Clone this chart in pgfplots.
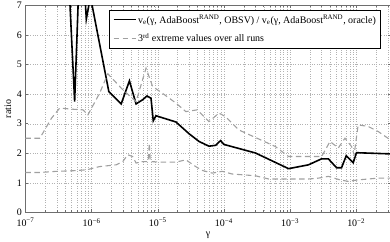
\documentclass[border=0pt]{standalone}
\usepackage{fontspec}
\setmainfont{Liberation Serif}
\usepackage{pgfplots}
\pgfplotsset{compat=1.18}
\definecolor{dgray}{RGB}{160,160,160}
\definecolor{axgray}{RGB}{110,110,110}
\begin{document}
\fontsize{10}{12}\selectfont
\begin{tikzpicture}
\begin{axis}[
  scale only axis, width=365.5bp, height=207.2bp,
  xmode=log, xmin=1e-7, xmax=0.033, ymin=0, ymax=7,
  xtick={1e-7,1e-6,1e-5,1e-4,1e-3,1e-2},
  xticklabels={10\textsuperscript{−7},10\textsuperscript{−6},10\textsuperscript{−5},10\textsuperscript{−4},10\textsuperscript{−3},10\textsuperscript{−2}},
  minor xtick={2e-7,3e-7,4e-7,5e-7,6e-7,7e-7,8e-7,9e-7,
               2e-6,3e-6,4e-6,5e-6,6e-6,7e-6,8e-6,9e-6,
               2e-5,3e-5,4e-5,5e-5,6e-5,7e-5,8e-5,9e-5,
               2e-4,3e-4,4e-4,5e-4,6e-4,7e-4,8e-4,9e-4,
               2e-3,3e-3,4e-3,5e-3,6e-3,7e-3,8e-3,9e-3,
               2e-2,3e-2},
  ytick={0,1,2,3,4,5,6,7}, yticklabels={0,1,2,3,4,5,6,7},
  xmajorgrids, xminorgrids, ymajorgrids,
  major grid style={dotted, gray!60, line width=0.4pt},
  minor grid style={dotted, gray!60, line width=0.4pt},
  tick align=inside, major tick length=3bp, minor tick length=2bp,
  tick style={axgray, line width=0.5pt},
  axis line style={axgray, line width=0.9pt},
  xlabel={γ}, ylabel={ratio},
  xlabel style={yshift=2bp},
  ylabel style={yshift=-1bp},
  every tick label/.append style={font=\fontsize{10}{12}\selectfont},
  xticklabel style={yshift=-2.5bp},
  legend cell align=left,
  legend style={at={(0.973,0.978)}, anchor=north east, draw=black, line width=0.6pt,
    font=\fontsize{10}{12}\selectfont, inner xsep=3.5pt, inner ysep=2.5pt, row sep=5pt,
    nodes={inner xsep=1pt}},
  legend image code/.code={\draw[#1] (0cm,0cm) -- (0.8cm,0cm);},
]
\addplot[black, line width=1.6pt] coordinates {
(1e-7,12) (4.6e-7,7.5) (5.54e-7,3.75) (6.6e-7,8.5) (7.6e-7,8) (8.32e-7,6.54) (9.6e-7,7.3)
(1.82e-6,4.09) (2.80e-6,3.67) (3.73e-6,4.45) (4.70e-6,3.67) (5.90e-6,3.81) (6.88e-6,3.94)
(7.91e-6,3.86) (8.55e-6,3.10) (9.39e-6,3.27) (1.88e-5,3.06) (2.98e-5,2.66) (4.21e-5,2.40)
(5.95e-5,2.24) (7.5e-5,2.27) (8.91e-5,2.43) (1.0e-4,2.30) (3.0e-4,2.01) (9.5e-4,1.48)
(1.9e-3,1.61) (2.98e-3,1.81) (3.8e-3,1.81) (5.06e-3,1.51) (6.0e-3,1.51) (7.08e-3,1.92)
(9.0e-3,1.68) (1.01e-2,2.02) (3.3e-2,1.98)
};
\addlegendentry{v\textsubscript{e}(γ, AdaBoost\textsuperscript{RAND}, OBSV) / v\textsubscript{e}(γ, AdaBoost\textsuperscript{RAND}, oracle)}
\addplot[dgray, line width=1.1pt, dash pattern=on 5.5pt off 3.5pt] coordinates {
(1e-7,2.51) (1.65e-7,2.51) (2.48e-7,3.19) (3.30e-7,3.53) (5.24e-7,3.49) (7.40e-7,3.47)
(8.79e-7,3.30) (1.32e-6,4.03) (1.76e-6,4.69) (2.96e-6,4.15) (4.7e-6,3.75) (6.65e-6,4.88)
(8.36e-6,4.26) (1.18e-5,4.03) (1.88e-5,3.70) (2.66e-5,3.41) (3.97e-5,3.47) (5.95e-5,3.07)
(8.41e-5,3.36) (1.06e-4,3.24) (1.68e-4,2.79) (3.17e-4,2.51) (5.98e-4,2.23) (9.5e-4,1.89)
(1.69e-3,1.89) (3.0e-3,1.89) (4.02e-3,2.40) (5.36e-3,2.18) (6.76e-3,2.51) (8.5e-3,2.23)
(9.3e-3,1.95) (1.07e-2,2.96) (1.51e-2,2.91) (2.14e-2,2.74) (3.3e-2,2.45)
};
\addlegendentry{3\textsuperscript{rd} extreme values over all runs}
\addplot[dgray, line width=1.1pt, dash pattern=on 5.5pt off 3.5pt, forget plot] coordinates {
(1e-7,1.35) (1.65e-7,1.35) (2.94e-7,1.39) (5.24e-7,1.41) (8.32e-7,1.44) (1.32e-6,1.55)
(2.35e-6,1.61) (2.96e-6,1.72) (3.52e-6,1.95) (4.18e-6,1.89) (4.70e-6,1.67) (5.90e-6,1.72)
(7.19e-6,1.72) (7.45e-6,2.34) (7.71e-6,1.72) (1.18e-5,1.70) (1.88e-5,1.70) (2.66e-5,1.78)
(3.75e-5,1.55) (4.72e-5,1.42) (6.67e-5,1.33) (9.42e-5,1.39) (1.33e-4,1.30) (3.0e-4,1.24)
(4.75e-4,1.13) (9.5e-4,1.13) (1.9e-3,1.13) (2.69e-3,1.16) (3.8e-3,1.22) (5.69e-3,1.10)
(7.59e-3,1.05) (1.07e-2,1.10) (2.14e-2,1.16) (3.3e-2,1.16)
};
\end{axis}
\pgfresetboundingbox
\path[use as bounding box] ([xshift=-25.5bp,yshift=-29.3bp]current axis.south west) rectangle ([xshift=-0.5bp,yshift=5.5bp]current axis.north east);
\end{tikzpicture}
\end{document}
